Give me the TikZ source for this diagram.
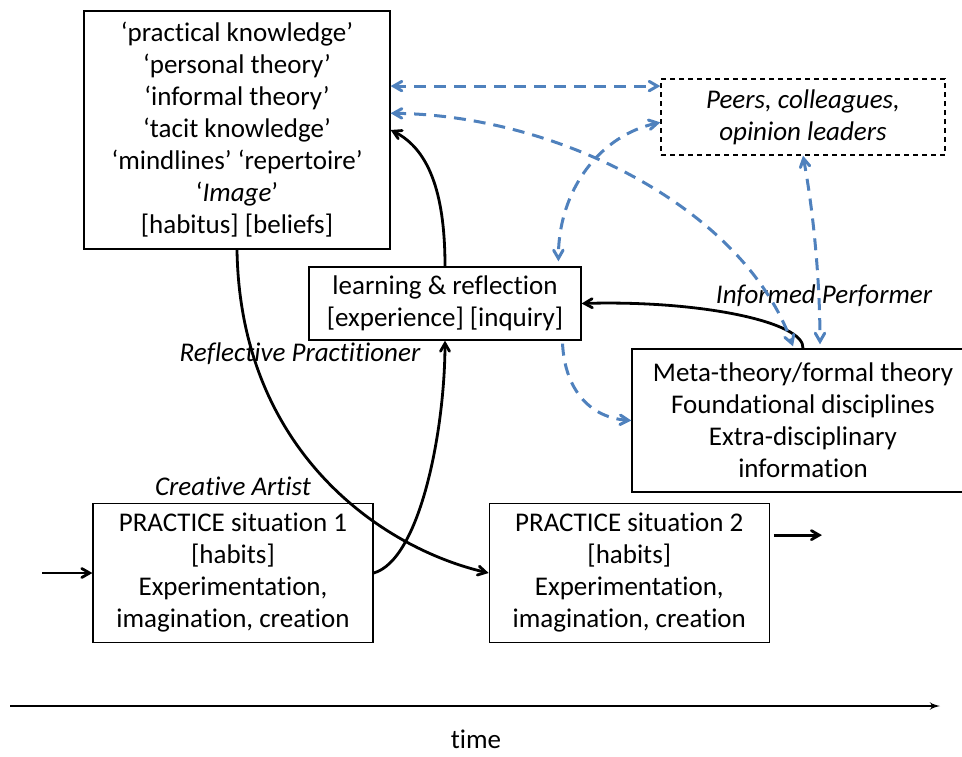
\documentclass[tikz,border=0pt]{standalone}
\usepackage{fontspec}
\setmainfont{Carlito}[Ligatures={TeX,NoCommon}]
\usepackage{tikz}
\usetikzlibrary{arrows,positioning,calc}
\definecolor{dashblue}{RGB}{79,129,189}
\newcommand{\diagfont}{\fontsize{27}{32}\selectfont}
\tikzstyle{block} = [rectangle, draw, line width=1.3pt, align=center, inner sep=0pt, font=\diagfont]
\tikzstyle{block2} = [block, minimum width=280pt, minimum height=139pt]
\tikzstyle{block3} = [block, dash pattern=on 5pt off 4pt, font=\diagfont\itshape]
\tikzstyle{lbl} = [font=\diagfont\itshape]
\tikzstyle{line} = [draw, line width=2.8pt, -angle 60]
\tikzstyle{dline} = [draw, dashblue, line width=3pt, dash pattern=on 12pt off 8pt, angle 60-angle 60]

\begin{document}
\begin{tikzpicture}[x=1pt,y=-1pt]
    \useasboundingbox (0,0) rectangle (962,756);
    \node [block, minimum width=306pt, minimum height=238pt] (theory) at (237,130) {`practical knowledge'\\`personal theory'\\`informal theory'\\`tacit knowledge'\\`mindlines' `repertoire'\\`\textit{Image}'\\{}[habitus] [beliefs]};
    \node [block3, minimum width=284pt, minimum height=76pt] (peers) at (803,117) {Peers, colleagues,\\opinion leaders};
    \node [block, minimum width=272pt, minimum height=73pt] (learn) at (445,303.5) {learning \& reflection\\{}[experience] [inquiry]};
    \node [block, minimum width=342pt, minimum height=143pt] (meta) at (803,420.5) {Meta-theory/formal theory\\Foundational disciplines\\Extra-disciplinary\\information};
    \node [block2] (prac1) at (233,573) {PRACTICE situation 1\\{}[habits]\\Experimentation,\\imagination, creation};
    \node [block2, right=115pt of prac1] (prac2) {PRACTICE situation 2\\{}[habits]\\Experimentation,\\imagination, creation};
    % labels
    \node [lbl] (reflect) at (300,354) {Reflective Practitioner};
    \node [lbl, above=4pt of prac1] (creative) {Creative Artist};
    \node [lbl] (informed) at (824,296) {Informed Performer};
    \node [font=\diagfont] (time) at (476,739) {time};
    % time axis
    \coordinate (t0) at (10,706);
    \coordinate (t1) at (940,706);
    \draw [line width=2.5pt, -latex'] (t0) -- (t1);
    % in and out
    \coordinate [left=50pt of prac1] (inc);
    \coordinate (prac2rc) at ($(prac2.north east)!0.23!(prac2.south east)+(4,0)$);
    \coordinate [right=48pt of prac2rc] (outc);
    \path [line] (inc) -- (prac1.west);
    \path [line] (prac2rc) -- (outc);
    % black curves
    \path [line] (prac1.east) .. controls (420,560) and (445,430) .. (learn.south);
    \path [line] (learn.north) .. controls (445,200) and (432,150) .. (theory.east);
    \path [line] (theory.south) .. controls (240,450) and (380,548) .. (prac2.west);
    \path [line] (meta.north) .. controls (805,322) and (700,300) .. (learn.east);
    % blue dashed
    \coordinate (pa) at ($(peers.north west)!0.1!(peers.south west)$);
    \path [dline] (pa -| theory.east) -- (pa);
    \path [dline] ($(theory.north east)!0.43!(theory.south east)$) .. controls (560,115) and (745,210) .. ($(meta.north)+(-10,-2)$);
    \path [dline] ($(peers.north west)!0.57!(peers.south west)$) .. controls (600,135) and (558,190) .. ($(learn.north west)!0.915!(learn.north east)+(0,-5)$);
    \path [dline, -angle 60] ($(learn.south west)!0.93!(learn.south east)+(0,3)$) .. controls (565,390) and (590,418) .. (meta.west);
    \path [dline] (peers.south) .. controls (815,220) and (820,290) .. ($(meta.north)+(17,-4)$);
\end{tikzpicture}
\end{document}
